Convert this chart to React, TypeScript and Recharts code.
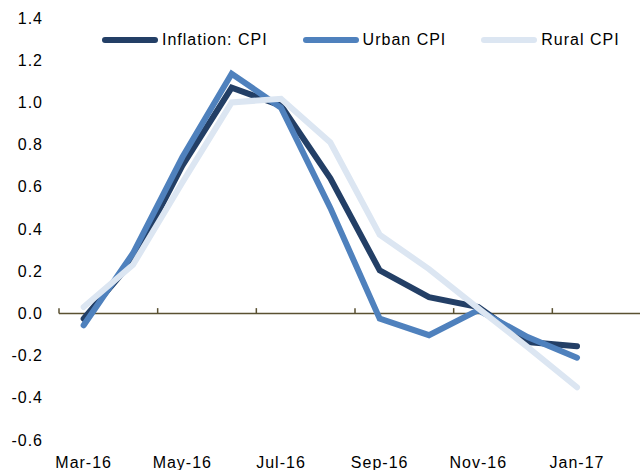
import React from 'react';
import { LineChart, Line, XAxis, YAxis, ReferenceLine, Legend } from 'recharts';

const months = ['Mar-16', 'Apr-16', 'May-16', 'Jun-16', 'Jul-16', 'Aug-16', 'Sep-16', 'Oct-16', 'Nov-16', 'Dec-16', 'Jan-17'];
const inflationCPI = [-0.025, 0.25, 0.70, 1.07, 0.985, 0.64, 0.204, 0.077, 0.03, -0.136, -0.156];
const urbanCPI = [-0.056, 0.285, 0.74, 1.136, 0.975, 0.50, -0.025, -0.103, 0.016, -0.112, -0.21];
const ruralCPI = [0.03, 0.23, 0.62, 1.0, 1.017, 0.81, 0.373, 0.21, 0.024, -0.16, -0.35];
const seriesNames = ['Inflation: CPI', 'Urban CPI', 'Rural CPI'];
const yTicks = [-0.6, -0.4, -0.2, 0.0, 0.2, 0.4, 0.6, 0.8, 1.0, 1.2, 1.4];
const xTicks = [0, 2, 4, 6, 8, 10];
const tickMarks = [-0.5, 1.5, 3.5, 5.5, 7.5, 9.5, 11.5];

const data = months.map((m, i) => ({
  idx: i,
  month: m,
  inflation: inflationCPI[i],
  urban: urbanCPI[i],
  rural: ruralCPI[i],
}));

const FONT = '"Liberation Sans", Arial, sans-serif';

const renderLegend = (props: any) => {
  const payload = [...(props.payload || [])].sort(
    (a: any, b: any) => seriesNames.indexOf(a.value) - seriesNames.indexOf(b.value)
  );
  return (
    <div style={{ display: 'flex', alignItems: 'center', fontFamily: FONT, fontSize: 16, letterSpacing: 1, color: '#000' }}>
      {payload.map((entry: any) => (
        <div key={entry.value} style={{ display: 'flex', alignItems: 'center', marginRight: 35 }}>
          <span style={{ display: 'inline-block', width: 56, height: 6, borderRadius: 3, background: entry.color }} />
          <span style={{ marginLeft: 4, whiteSpace: 'nowrap' }}>{entry.value}</span>
        </div>
      ))}
    </div>
  );
};

export default function App() {
  return (
    <div style={{ position: 'fixed', top: 0, left: 0, width: 640, height: 470, overflow: 'hidden', background: '#fff' }}>
      <LineChart width={651} height={470} data={data} margin={{ top: 18, right: 0, bottom: 0, left: 0 }}>
        <XAxis
          dataKey="idx"
          type="number"
          domain={[-0.5, 11.5]}
          ticks={xTicks}
          tickFormatter={(v: number) => months[v]}
          axisLine={false}
          tickLine={false}
          tickSize={0}
          tickMargin={17}
          height={30}
          interval={0}
          tick={{ fill: '#000', fontSize: 16, fontFamily: FONT, letterSpacing: 1 }}
        />
        <YAxis
          domain={[-0.6, 1.4]}
          ticks={yTicks}
          tickFormatter={(v: number) => v.toFixed(1)}
          axisLine={false}
          tickLine={false}
          tickSize={0}
          tickMargin={16}
          width={59}
          interval={0}
          tick={{ fill: '#000', fontSize: 16, fontFamily: FONT, letterSpacing: 1 }}
        />
        <ReferenceLine y={0} stroke="#5a5132" strokeWidth={1.5} />
        {tickMarks.map((t) => (
          <ReferenceLine
            key={t}
            segment={[{ x: t, y: 0 }, { x: t, y: 0.025 }]}
            stroke="#5a5132"
            strokeWidth={1.5}
            ifOverflow="visible"
          />
        ))}
        <Legend
          layout="horizontal"
          verticalAlign="middle"
          align="center"
          content={renderLegend}
          wrapperStyle={{ position: 'absolute', top: 31, left: 102, width: 'auto' }}
        />
        <Line type="linear" dataKey="inflation" name="Inflation: CPI" stroke="#233f66" strokeWidth={6} dot={false} strokeLinecap="round" isAnimationActive={false} />
        <Line type="linear" dataKey="urban" name="Urban CPI" stroke="#4f81bd" strokeWidth={6} dot={false} strokeLinecap="round" isAnimationActive={false} />
        <Line type="linear" dataKey="rural" name="Rural CPI" stroke="#dce6f2" strokeWidth={6} dot={false} strokeLinecap="round" isAnimationActive={false} />
      </LineChart>
    </div>
  );
}
